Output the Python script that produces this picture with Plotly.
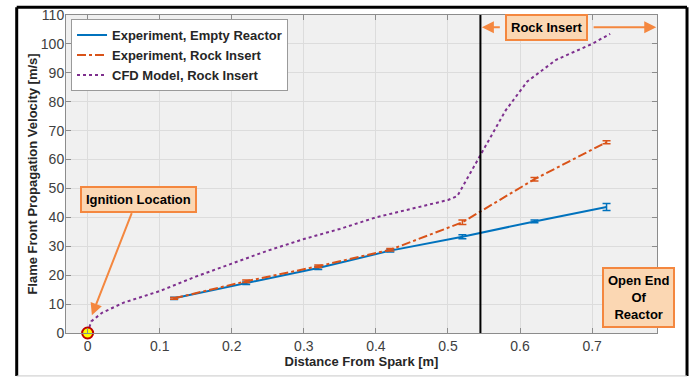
import plotly.graph_objects as go

# ---- data ----
x_exp = [0.12, 0.22, 0.32, 0.42, 0.52, 0.62, 0.72]
v_empty = [12.0, 17.2, 22.5, 28.5, 33.3, 38.6, 43.6]
err_empty = [0.4, 0.4, 0.5, 0.5, 0.7, 0.5, 1.2]
v_rock = [12.0, 17.9, 23.1, 28.8, 38.3, 53.2, 66.0]
err_rock = [0.3, 0.4, 0.4, 0.4, 0.8, 0.6, 0.5]

x_cfd = [0.0, 0.005, 0.02, 0.05, 0.1, 0.15, 0.2, 0.25, 0.3, 0.35, 0.4, 0.45,
         0.5, 0.513, 0.55, 0.58, 0.61, 0.65, 0.7, 0.725]
v_cfd = [0.0, 4.0, 7.0, 10.5, 14.5, 19.5, 24.0, 28.5, 32.5, 36.0, 40.0, 43.0,
         46.0, 47.4, 64.0, 77.0, 87.0, 94.5, 100.0, 103.5]

ignition_x = [0.0]
ignition_v = [0.0]
rock_insert_start = 0.545

x_ticks = [0, 0.1, 0.2, 0.3, 0.4, 0.5, 0.6, 0.7]
x_tick_labels = ["0", "0.1", "0.2", "0.3", "0.4", "0.5", "0.6", "0.7"]
y_ticks = list(range(0, 111, 10))

BLUE = "#0072bd"
ORANGE = "#d95319"
PURPLE = "#7e2f8e"
ANN_ORANGE = "#f4873f"
ANN_FILL = "#fbd7b3"
FONT = "Liberation Sans, Arial, sans-serif"

fig = go.Figure()
fig.add_trace(go.Scatter(
    x=x_exp, y=v_empty, mode="lines", name="Experiment, Empty Reactor",
    line=dict(color=BLUE, width=2),
    error_y=dict(type="data", array=err_empty, color=BLUE, thickness=1.5, width=4),
))
fig.add_trace(go.Scatter(
    x=x_exp, y=v_rock, mode="lines", name="Experiment, Rock Insert",
    line=dict(color=ORANGE, width=2, dash="dashdot"),
    error_y=dict(type="data", array=err_rock, color=ORANGE, thickness=1.5, width=4),
))
fig.add_trace(go.Scatter(
    x=x_cfd, y=v_cfd, mode="lines", name="CFD Model, Rock Insert",
    line=dict(color=PURPLE, width=2, dash="dot"),
))
fig.add_trace(go.Scatter(
    x=ignition_x, y=ignition_v, mode="markers", showlegend=False,
    marker=dict(color="#ffff00", size=11, line=dict(color="#c00000", width=2)),
    cliponaxis=False,
))

fig.add_shape(type="line", x0=rock_insert_start, x1=rock_insert_start, y0=0, y1=110,
              xref="x", yref="y", line=dict(color="black", width=2))

# outer frame (plot area spans 591 x 318 px)
FX0, FX1, FY0, FY1 = -0.0834, 1.0508, -0.135, 1.024
fig.add_shape(type="line", xref="paper", yref="paper", x0=FX0, x1=FX0, y0=FY0, y1=FY1,
              line=dict(color="black", width=3))
fig.add_shape(type="line", xref="paper", yref="paper", x0=FX0, x1=FX1, y0=FY1, y1=FY1,
              line=dict(color="black", width=3))
fig.add_shape(type="line", xref="paper", yref="paper", x0=FX1, x1=FX1, y0=FY0, y1=FY1,
              line=dict(color="black", width=3))
fig.add_shape(type="line", xref="paper", yref="paper", x0=FX0, x1=FX1, y0=FY0, y1=FY0,
              line=dict(color="#c8c8c8", width=1))

ann_font = dict(family=FONT, size=13, color="black")
# Rock insert arrows
fig.add_annotation(x=0.547, y=105.8, ax=0.574, ay=105.8, xref="x", yref="y", axref="x", ayref="y",
                   text="", showarrow=True, arrowhead=2, arrowsize=1.2, arrowwidth=2, arrowcolor=ANN_ORANGE)
fig.add_annotation(x=0.789, y=105.8, ax=0.70, ay=105.8, xref="x", yref="y", axref="x", ayref="y",
                   text="", showarrow=True, arrowhead=2, arrowsize=1.2, arrowwidth=2, arrowcolor=ANN_ORANGE)
fig.add_annotation(x=0.636, y=105.8, xref="x", yref="y", text="<b>Rock Insert</b>", showarrow=False,
                   font=ann_font, bgcolor=ANN_FILL, bordercolor=ANN_ORANGE, borderwidth=2, borderpad=4)
# Ignition location
fig.add_annotation(x=0.0059, y=6.1, ax=0.062, ay=42.0, xref="x", yref="y", axref="x", ayref="y",
                   text="", showarrow=True, arrowhead=2, arrowsize=1.2, arrowwidth=2, arrowcolor=ANN_ORANGE)
fig.add_annotation(x=0.0708, y=46.3, xref="x", yref="y", text="<b>Ignition Location</b>", showarrow=False,
                   font=ann_font, bgcolor=ANN_FILL, bordercolor=ANN_ORANGE, borderwidth=2, borderpad=4)
# Open end
fig.add_annotation(x=0.765, y=12.4, xref="x", yref="y", text="<b>Open End<br>Of<br>Reactor</b>",
                   showarrow=False, font=ann_font, bgcolor=ANN_FILL, bordercolor=ANN_ORANGE,
                   borderwidth=2, borderpad=4, align="center")

axis_common = dict(
    showgrid=True, gridcolor="#dcdcdc", gridwidth=1,
    showline=True, linecolor="#8c8c8c", linewidth=1, mirror="ticks",
    ticks="inside", ticklen=5, tickcolor="#8c8c8c",
    tickfont=dict(family=FONT, size=14, color="#404040"),
    zeroline=False, automargin=True,
)
fig.update_layout(
    width=694, height=378,
    margin=dict(l=66, r=37, t=15, b=45, autoexpand=False),
    paper_bgcolor="white", plot_bgcolor="#f0f0f0",
    font=dict(family=FONT),
    xaxis=dict(range=[-0.03, 0.79], tickvals=x_ticks, ticktext=x_tick_labels,
               title=dict(text="<b>Distance From Spark [m]</b>", font=dict(family=FONT, size=13, color="#262626"),
                          standoff=2),
               **axis_common),
    yaxis=dict(range=[0, 110], tickvals=y_ticks, ticklabelstandoff=-2,
               title=dict(text="<b>Flame Front Propagation Velocity [m/s]</b>",
                          font=dict(family=FONT, size=13, color="#262626"), standoff=0),
               **axis_common),
    legend=dict(x=0.0085, y=0.987, xanchor="left", yanchor="top", bgcolor="white",
                bordercolor="#9a9a9a", borderwidth=1, itemwidth=30, tracegroupgap=0,
                font=dict(family=FONT, size=13, color="#262626"), traceorder="normal"),
    showlegend=True,
)
fig.update_layout(legend_font_weight="bold")

fig.write_html("out.html", config={"displayModeBar": False},
               post_script="document.body.style.margin='0';document.body.style.overflow='hidden';")
